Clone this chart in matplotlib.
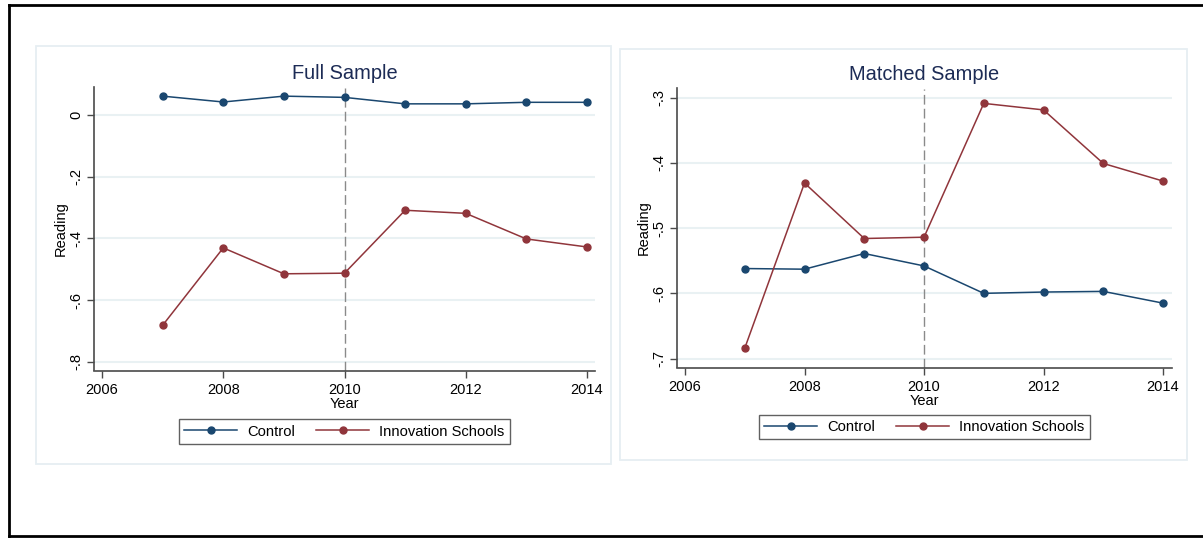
"""Reading scores by year: full sample vs matched sample, control vs innovation schools."""
import matplotlib
matplotlib.use("Agg")
import matplotlib.pyplot as plt
from matplotlib.lines import Line2D
from matplotlib.patches import Rectangle

plt.rcParams.update({"font.family": ["Liberation Sans", "DejaVu Sans"], "font.size": 10.3})

W, H = 1203, 538

years = [2007, 2008, 2009, 2010, 2011, 2012, 2013, 2014]

full_control = [0.061, 0.042, 0.061, 0.057, 0.036, 0.036, 0.041, 0.041]
full_innov = [-0.682, -0.431, -0.515, -0.513, -0.309, -0.319, -0.402, -0.428]

matched_control = [-0.562, -0.563, -0.539, -0.558, -0.600, -0.598, -0.597, -0.615]
matched_innov = [-0.684, -0.431, -0.516, -0.514, -0.309, -0.319, -0.401, -0.428]

x_ticks = [2006, 2008, 2010, 2012, 2014]
full_yticks = [0, -0.2, -0.4, -0.6, -0.8]
full_ylabels = ["0", "-.2", "-.4", "-.6", "-.8"]
matched_yticks = [-0.3, -0.4, -0.5, -0.6, -0.7]
matched_ylabels = ["-.3", "-.4", "-.5", "-.6", "-.7"]

NAVY = "#1a476f"
MAROON = "#90353b"
GRID = "#e9f1f3"
PANEL_EDGE = "#e6eef2"
AXIS = "#4a4a4a"
TITLE = "#1c2b55"


def px_box(x0, y0, x1, y1):
    """pixel box (top-left origin) -> figure fraction [l, b, w, h]"""
    return [x0 / W, 1 - y1 / H, (x1 - x0) / W, (y1 - y0) / H]


fig = plt.figure(figsize=(W / 100, H / 100), dpi=100)

# outer frame (right side runs off the canvas)
for xs, ys in [((9, 9), (5, 536)), ((9, W + 5), (5, 5)), ((9, W + 5), (536, 536))]:
    fig.add_artist(Line2D([x / W for x in xs], [1 - y / H for y in ys],
                          color="black", lw=2.0, transform=fig.transFigure))

# light outline around each panel
for x0, y0, x1, y1 in [(36, 46, 611, 464), (620, 48.7, 1186.5, 460)]:
    fig.add_artist(Rectangle((x0 / W, 1 - y1 / H), (x1 - x0) / W, (y1 - y0) / H,
                             transform=fig.transFigure, fill=False,
                             edgecolor=PANEL_EDGE, lw=1.3))


def panel(box, xlim, ylim, ctrl, innov, yticks, ylabels, title, legend_xy):
    ax = fig.add_axes(px_box(*box))
    ax.set_xlim(*xlim)
    ax.set_ylim(*ylim)
    for s in ["top", "right"]:
        ax.spines[s].set_visible(False)
    for s in ["left", "bottom"]:
        ax.spines[s].set_color(AXIS)
        ax.spines[s].set_linewidth(1.2)
    ax.set_yticks(yticks)
    ax.set_yticklabels(ylabels, rotation=90, va="center")
    ax.set_xticks(x_ticks)
    ax.tick_params(length=5, width=1.0, color=AXIS, labelsize=10.5)
    ax.tick_params(axis="x", pad=4)
    ax.tick_params(axis="y", pad=3)
    for y in yticks:
        ax.axhline(y, color=GRID, lw=1.5, zorder=0)
    ax.axvline(2010, color="#8a8a8a", lw=1.0, ls=(0, (7, 3)), zorder=1)
    ax.plot(years, ctrl, color=NAVY, lw=1.1, marker="o", ms=5, label="Control", zorder=3)
    ax.plot(years, innov, color=MAROON, lw=1.1, marker="o", ms=5,
            label="Innovation Schools", zorder=3)
    ax.set_xlabel("Year", labelpad=0, fontsize=10.5)
    ax.set_ylabel("Reading", labelpad=1, fontsize=10.5)
    ax.set_title(title, fontsize=14.4, color=TITLE, pad=6)
    fig.legend(*ax.get_legend_handles_labels(), loc="center", ncol=2,
               bbox_to_anchor=(legend_xy[0] / W, 1 - legend_xy[1] / H),
               bbox_transform=fig.transFigure, fontsize=10.6,
               frameon=True, fancybox=False, edgecolor="#3a3a3a",
               handlelength=3.6, handletextpad=0.7, columnspacing=1.4,
               borderpad=0.35, borderaxespad=0)
    ax.get_figure().legends[-1].get_frame().set_linewidth(1.0)
    return ax


panel((94, 87.5, 595, 370.5), (2005.868, 2014.132), (-0.8285, 0.089),
      full_control, full_innov, full_yticks, full_ylabels, "Full Sample", (344.5, 431.5))
panel((677, 88.5, 1172, 367.5), (2005.866, 2014.15), (-0.7136, -0.2862),
      matched_control, matched_innov, matched_yticks, matched_ylabels,
      "Matched Sample", (924.5, 427.3))

fig.savefig("out.png", dpi=100)
